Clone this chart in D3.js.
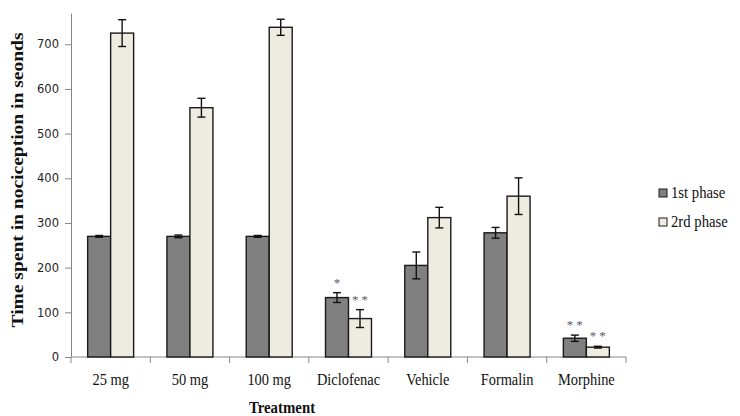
<!DOCTYPE html>
<html>
<head>
<meta charset="utf-8">
<script src="https://cdn.jsdelivr.net/npm/d3@7"></script>
<style>
  body { margin: 0; background: #fff; }
  svg { display: block; }
</style>
</head>
<body>
<svg class="chart"></svg>
<script>
const treatments = ["25 mg", "50 mg", "100 mg", "Diclofenac", "Vehicle", "Formalin", "Morphine"];
const phases = ["1st phase", "2rd phase"];
const phase1 = [270, 270, 270, 133, 205, 278, 42];
const phase1Err = [2, 3, 2, 11, 30, 12, 7];
const phase2 = [725, 558, 738, 86, 312, 360, 22];
const phase2Err = [30, 21, 18, 20, 23, 41, 2];
const phase1Sig = ["", "", "", "*", "", "", "**"];
const phase2Sig = ["", "", "", "**", "", "", "**"];
const yTicks = [0, 100, 200, 300, 400, 500, 600, 700];
const yMax = 770;

const width = 740, height = 416;
const fills = ["#808080", "#eeece1"];
const serif = "'Liberation Serif', 'Times New Roman', serif";

const svg = d3.select(".chart")
  .attr("width", width)
  .attr("height", height);

const x0 = d3.scaleBand()
  .domain(treatments)
  .range([71, 626]);

const x1 = d3.scaleBand()
  .domain(phases)
  .range([x0.bandwidth() * 0.21, x0.bandwidth() * 0.79]);

const y = d3.scaleLinear()
  .domain([0, yMax])
  .range([357, 13]);

const rows = treatments.map((t, i) => ({
  treatment: t,
  values: [
    { phase: phases[0], value: phase1[i], err: phase1Err[i], sig: phase1Sig[i] },
    { phase: phases[1], value: phase2[i], err: phase2Err[i], sig: phase2Sig[i] }
  ]
}));

// y axis
const yAxis = svg.append("g")
  .attr("transform", "translate(71,0)")
  .call(d3.axisLeft(y).tickValues(yTicks).tickSize(6).tickPadding(6).tickSizeOuter(0));
yAxis.select(".domain").attr("stroke", "#868686");
yAxis.selectAll(".tick line").attr("stroke", "#868686");
yAxis.selectAll(".tick text")
  .attr("font-family", "'DejaVu Sans', Verdana, sans-serif")
  .attr("font-size", 11.5)
  .attr("fill", "#1f1f1f");

// x axis
const xAxis = svg.append("g")
  .attr("transform", "translate(0,357)");
xAxis.append("line")
  .attr("x1", x0.range()[0]).attr("x2", x0.range()[1])
  .attr("stroke", "#868686");
const bounds = treatments.map(t => x0(t)).concat([x0.range()[1]]);
xAxis.selectAll(".xt")
  .data(bounds)
  .enter()
  .append("line")
  .attr("x1", d => d).attr("x2", d => d)
  .attr("y1", 0).attr("y2", 6)
  .attr("stroke", "#868686");
xAxis.selectAll(".xl")
  .data(treatments)
  .enter()
  .append("text")
  .attr("transform", d => `translate(${x0(d) + x0.bandwidth() / 2},28) scale(0.9,1)`)
  .attr("text-anchor", "middle")
  .attr("font-family", serif)
  .attr("font-size", 16)
  .attr("fill", "#111")
  .text(d => d);

// bars
const group = svg.selectAll(".grp")
  .data(rows)
  .enter()
  .append("g")
  .attr("transform", d => `translate(${x0(d.treatment)},0)`);

group.selectAll("rect")
  .data(d => d.values)
  .enter()
  .append("rect")
  .attr("x", d => x1(d.phase))
  .attr("y", d => y(d.value))
  .attr("width", x1.bandwidth())
  .attr("height", d => y(0) - y(d.value))
  .attr("fill", (d, i) => fills[i])
  .attr("stroke", "#1a1a1a")
  .attr("stroke-width", 1.4);

// error bars
const err = group.selectAll(".err")
  .data(d => d.values)
  .enter()
  .append("g")
  .attr("stroke", "#111")
  .attr("stroke-width", 1.4);
err.append("line")
  .attr("x1", d => x1(d.phase) + x1.bandwidth() / 2)
  .attr("x2", d => x1(d.phase) + x1.bandwidth() / 2)
  .attr("y1", d => y(d.value + d.err))
  .attr("y2", d => y(d.value - d.err));
err.append("line")
  .attr("x1", d => x1(d.phase) + x1.bandwidth() / 2 - 4)
  .attr("x2", d => x1(d.phase) + x1.bandwidth() / 2 + 4)
  .attr("y1", d => y(d.value + d.err))
  .attr("y2", d => y(d.value + d.err));
err.append("line")
  .attr("x1", d => x1(d.phase) + x1.bandwidth() / 2 - 4)
  .attr("x2", d => x1(d.phase) + x1.bandwidth() / 2 + 4)
  .attr("y1", d => y(d.value - d.err))
  .attr("y2", d => y(d.value - d.err));

// significance marks
group.selectAll(".sig")
  .data(d => d.values.filter(v => v.sig))
  .enter()
  .append("text")
  .attr("x", d => x1(d.phase) + x1.bandwidth() / 2 + 1.5)
  .attr("y", d => y(d.value + d.err) - 6)
  .attr("text-anchor", "middle")
  .attr("font-family", serif)
  .attr("font-size", 13)
  .attr("letter-spacing", "3px")
  .attr("fill", "#5a5a6a")
  .text(d => d.sig);

// axis titles
svg.append("text")
  .attr("transform", "translate(23,180) rotate(-90)")
  .attr("text-anchor", "middle")
  .attr("font-family", serif)
  .attr("font-weight", "bold")
  .attr("font-size", 16)
  .attr("textLength", 295)
  .attr("lengthAdjust", "spacingAndGlyphs")
  .attr("fill", "#111")
  .text("Time spent in nociception in seonds");

svg.append("text")
  .attr("transform", "translate(282,413) scale(0.9,1)")
  .attr("text-anchor", "middle")
  .attr("font-family", serif)
  .attr("font-weight", "bold")
  .attr("font-size", 16.5)
  .attr("fill", "#111")
  .text("Treatment");

// legend
const legend = svg.selectAll(".leg")
  .data(phases)
  .enter()
  .append("g")
  .attr("transform", (d, i) => `translate(659,${193 + i * 29})`);
legend.append("rect")
  .attr("x", 0).attr("y", -4)
  .attr("width", 8).attr("height", 8)
  .attr("fill", (d, i) => fills[i])
  .attr("stroke", "#1a1a1a")
  .attr("stroke-width", 1);
legend.append("text")
  .attr("transform", "translate(12,5) scale(0.92,1)")
  .attr("font-family", serif)
  .attr("font-size", 16)
  .attr("fill", "#111")
  .text(d => d);
</script>
</body>
</html>
